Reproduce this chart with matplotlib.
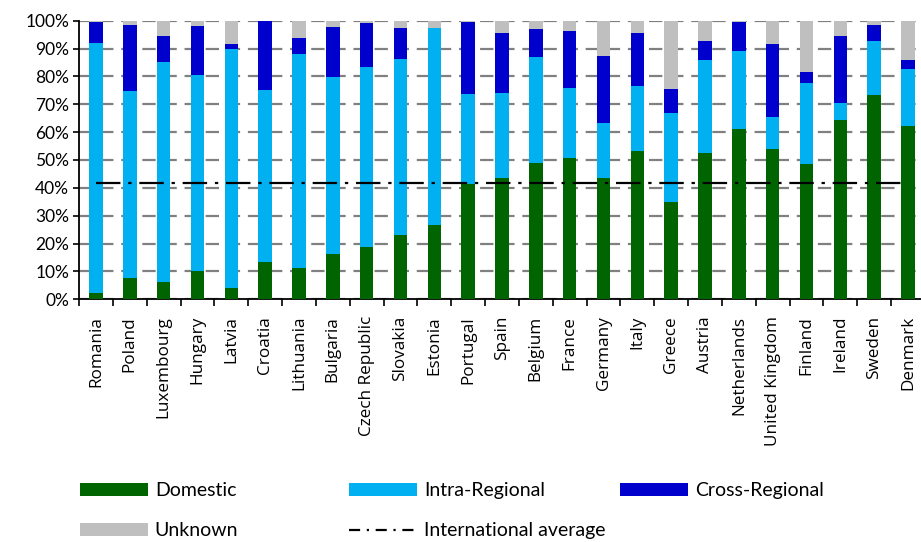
import numpy as np
import matplotlib
matplotlib.use("Agg")
import matplotlib.pyplot as plt
from matplotlib.patches import Patch
from matplotlib.lines import Line2D
from matplotlib.ticker import FixedLocator, FuncFormatter

# -----------------------------
# Data (share of total, %)
# -----------------------------
countries = ["Romania", "Poland", "Luxembourg", "Hungary", "Latvia", "Croatia",
             "Lithuania", "Bulgaria", "Czech Republic", "Slovakia", "Estonia",
             "Portugal", "Spain", "Belgium", "France", "Germany", "Italy", "Greece",
             "Austria", "Netherlands", "United Kingdom", "Finland", "Ireland",
             "Sweden", "Denmark"]

domestic = [2.4, 7.8, 6.3, 10.3, 4.1, 13.5, 11.4, 16.3, 18.9, 23.1, 26.7, 41.3,
            43.7, 49.0, 50.8, 43.5, 53.2, 35.0, 52.5, 61.1, 53.9, 48.7, 64.4,
            73.3, 62.2]
intra_regional = [89.6, 67.1, 78.7, 70.2, 85.7, 61.7, 76.6, 63.6, 64.4, 63.3, 70.7,
                  32.4, 30.2, 38.0, 25.2, 19.7, 23.4, 32.0, 33.4, 28.0, 11.5, 28.9,
                  6.1, 19.5, 20.5]
cross_regional = [7.6, 23.7, 9.5, 17.7, 1.9, 24.8, 5.8, 17.7, 16.0, 11.0, 0.0,
                  25.8, 21.6, 10.1, 20.2, 24.2, 19.0, 8.5, 6.9, 10.5, 26.3, 3.9,
                  24.0, 5.6, 3.3]
unknown = [0.4, 1.4, 5.5, 1.8, 8.3, 0.0, 6.2, 2.4, 0.7, 2.6, 2.6, 0.5, 4.5, 2.9,
           3.8, 12.6, 4.4, 24.5, 7.2, 0.4, 8.3, 18.5, 5.5, 1.6, 14.0]

international_average = 41.9

series = [("Domestic", domestic, "#006400"),
          ("Intra-Regional", intra_regional, "#00B0F0"),
          ("Cross-Regional", cross_regional, "#0000CC"),
          ("Unknown", unknown, "#BFBFBF")]

plt.rcParams["font.family"] = ["Lato", "DejaVu Sans"]

fig = plt.figure(figsize=(9.21, 5.42), dpi=100)
ax = fig.add_axes([79 / 921, 0.4478, 846 / 921, 0.514])

x = np.arange(len(countries))
bottom = np.zeros(len(countries))
for name, vals, color in series:
    vals = np.array(vals)
    ax.bar(x, vals, width=0.4, bottom=bottom, color=color, zorder=3)
    bottom += vals

# average line across the bars
ax.plot([x[0], x[-1]], [international_average] * 2, color="black", lw=1.6,
        dashes=(11, 3.5, 1.5, 3.5), zorder=4)

# -----------------------------
# Axes styling
# -----------------------------
ax.set_xlim(-0.5, len(countries) - 0.5)
ax.set_ylim(0, 100)
ax.set_yticks(np.arange(0, 101, 10))
ax.yaxis.set_major_formatter(FuncFormatter(lambda v, _: f"{v:.0f}%"))
ax.yaxis.grid(True, color="#808080", lw=1.6, dashes=(6, 3.5), zorder=0)
ax.set_axisbelow(True)

ax.set_xticks(x)
ax.set_xticklabels(countries, rotation=90, fontsize=12.3,
                   family=["Open Sans", "DejaVu Sans"])
ax.xaxis.set_minor_locator(FixedLocator(np.arange(-0.5, len(countries), 1.0)))
ax.tick_params(axis="x", which="major", length=0, pad=12)
ax.tick_params(axis="x", which="minor", length=5, width=1.2, direction="out")
ax.tick_params(axis="y", length=4, width=1.2, labelsize=12.5, pad=3)

for side in ["top", "right"]:
    ax.spines[side].set_visible(False)
ax.spines["left"].set_linewidth(1.3)
ax.spines["bottom"].set_linewidth(1.3)

# -----------------------------
# Legend (three columns)
# -----------------------------
leg_kw = dict(frameon=False, fontsize=14, handlelength=3.5, handleheight=0.65,
              handletextpad=0.35, labelspacing=1.2, borderaxespad=0, borderpad=0)
h = {name: Patch(facecolor=color) for name, _, color in series}
avg_handle = Line2D([], [], color="black", lw=1.6, dashes=(5, 3, 1, 3))

columns = [
    (80 / 921, [h["Domestic"], h["Unknown"]], ["Domestic", "Unknown"]),
    (349 / 921, [h["Intra-Regional"], avg_handle], ["Intra-Regional", "International average"]),
    (620 / 921, [h["Cross-Regional"]], ["Cross-Regional"]),
]
for xpos, handles, labels in columns:
    fig.legend(handles, labels, loc="upper left", bbox_to_anchor=(xpos, 1 - 482 / 542),
               **leg_kw)

fig.savefig("out.png", dpi=100)
